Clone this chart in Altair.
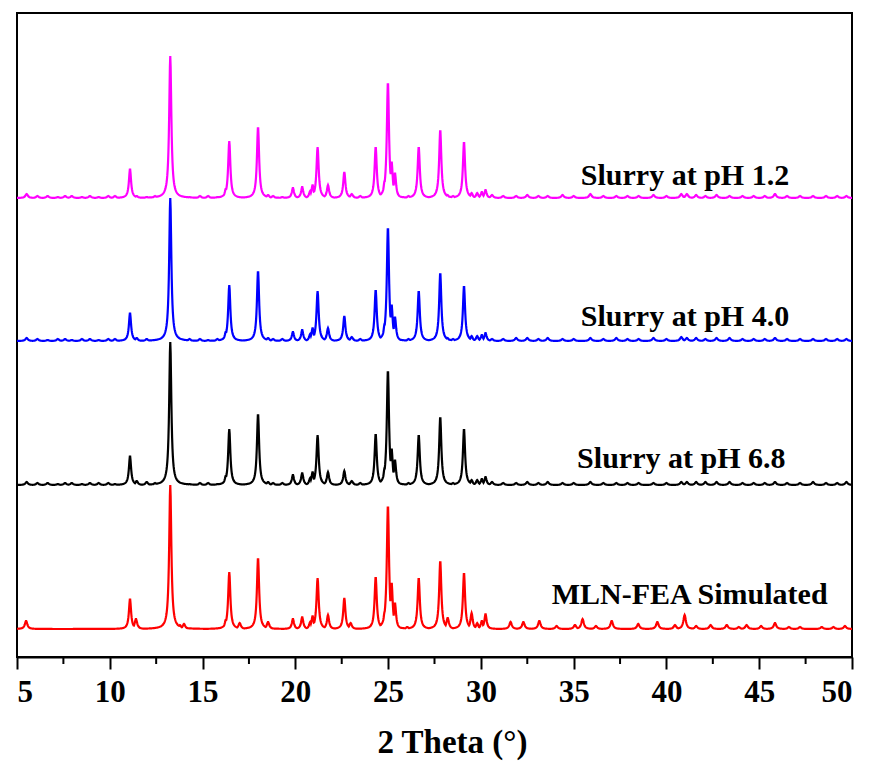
import altair as alt
import numpy as np
import pandas as pd

# ---- data ----
main_pos = [11.09, 13.26, 16.25, 16.44, 17.99, 19.87, 20.37, 20.80, 20.93, 21.20,
            21.76, 22.64, 24.33, 24.81, 24.99, 25.19, 25.37, 26.65, 27.81, 29.09,
            29.50, 29.80, 30.05, 30.25]
h_pink = [29, 142, 9, 57, 71, 10, 11, 7, 13, 51, 13, 26, 51, 17, 116, 36, 25, 51, 68, 56, 5, 5, 6, 8]
h_blue = [28, 143, 9, 56, 70, 9, 11, 7, 13, 50, 13, 25, 51, 17, 114, 36, 24, 50, 68, 55, 5, 5, 6, 8]
h_black = [29, 143, 9, 56, 71, 10, 12, 7, 13, 50, 13, 14, 51, 17, 115, 36, 25, 50, 68, 56, 5, 5, 6, 8]
h_red = [30, 144, 9, 57, 71, 10, 12, 7, 13, 51, 14, 31, 52, 17, 124, 46, 26, 51, 68, 56, 16, 6, 8, 15]

# extra reflections of the simulated pattern
red_extra_pos = [5.49, 11.41, 13.78, 14.00, 17.00, 18.53, 22.98, 26.03, 28.21, 31.60, 32.29,
                 33.15, 34.08, 35.07, 35.48, 36.20, 37.05, 38.48, 39.51, 40.46, 40.98,
                 41.60, 42.38, 43.25, 43.90, 44.32, 45.10, 45.85, 46.60, 47.20, 48.37, 49.00, 49.62]
red_extra_h = [8, 10, 4, 5, 6, 7, 6, 2, 11, 7, 7,
               8, 3, 4, 10, 3, 8, 5, 7, 4, 14,
               3, 4, 4, 2, 4, 3, 6, 2, 2, 2, 2, 3]

# small reflections / noise of the measured slurries
minor_pos = [5.52, 6.10, 6.65, 7.20, 7.59, 7.95, 8.50, 8.93, 9.40, 9.92, 10.28, 11.45,
             11.99, 12.44, 14.30, 14.86, 15.30, 15.80, 18.53, 18.80, 19.30, 23.04, 23.50,
             26.10, 28.20, 28.50, 30.60, 31.20, 31.90, 32.50, 33.10, 33.60, 34.40, 35.00,
             35.90, 36.60, 37.30, 37.90, 38.50, 39.30, 40.00, 40.80, 41.10, 41.60, 42.10,
             42.70, 43.40, 44.10, 44.70, 45.30, 45.85, 46.50, 47.20, 47.90, 48.60, 49.20, 49.70]
minor_pink = [4, 2, 2, 1, 2, 2, 1, 2, 1, 2, 2, 2,
              1, 2, 1, 2, 2, 1, 3, 2, 1, 4, 2,
              2, 3, 2, 3, 2, 2, 3, 2, 2, 3, 2,
              4, 2, 2, 2, 2, 3, 2, 4, 4, 3, 2,
              3, 2, 2, 2, 2, 4, 2, 2, 2, 2, 2, 2]
minor_blue = [3, 2, 1, 2, 2, 1, 2, 2, 1, 2, 2, 3,
              2, 1, 2, 2, 1, 2, 3, 2, 2, 4, 2,
              2, 3, 2, 2, 2, 3, 3, 2, 3, 2, 2,
              3, 2, 3, 2, 2, 3, 2, 4, 3, 3, 2,
              3, 3, 2, 2, 2, 3, 2, 2, 2, 2, 2, 2]
minor_black = [3, 2, 2, 1, 2, 2, 1, 2, 2, 2, 1, 4,
               3, 2, 1, 2, 2, 1, 3, 2, 2, 4, 2,
               2, 2, 2, 3, 2, 2, 3, 2, 3, 2, 2,
               3, 2, 2, 2, 2, 2, 2, 3, 3, 3, 3,
               3, 3, 2, 2, 2, 3, 2, 2, 3, 2, 2, 3]

series_names = ["Slurry at pH 1.2", "Slurry at pH 4.0", "Slurry at pH 6.8", "MLN-FEA Simulated"]
series_colors = ["#FF00FF", "#0000FF", "#000000", "#FF0000"]
x_ticks = [5, 10, 15, 20, 25, 30, 35, 40, 45, 50]
minor_ticks = [7.5, 12.5, 17.5, 22.5, 27.5, 32.5, 37.5, 42.5, 47.5]

# ---- layout constants (vertical stacking of the patterns) ----
offsets = [459, 316, 172, 28]
label_x = [41.0, 41.0, 40.8, 41.25]
label_y = [472, 331, 189, 53]

grid = np.arange(5.0, 50.0001, 0.02)


def profile(pos, hts, w):
    pos = np.asarray(pos, float)[:, None]
    hts = np.asarray(hts, float)[:, None]
    return (hts * w * w / ((grid[None, :] - pos) ** 2 + w * w)).max(axis=0)


peak_sets = [
    [(main_pos, h_pink, 0.07), (minor_pos, minor_pink, 0.08)],
    [(main_pos, h_blue, 0.07), (minor_pos, minor_blue, 0.08)],
    [(main_pos, h_black, 0.07), (minor_pos, minor_black, 0.08)],
    [(main_pos, h_red, 0.07), (red_extra_pos, red_extra_h, 0.08)],
]

frames = []
for name, off, sets in zip(series_names, offsets, peak_sets):
    y = np.zeros_like(grid)
    for p, h, w in sets:
        y = np.maximum(y, profile(p, h, w))
    frames.append(pd.DataFrame({"x": grid, "y": y + off, "series": name}))
df = pd.concat(frames, ignore_index=True)

labels = pd.DataFrame({"x": label_x, "y": label_y, "text": series_names})
minor_df = pd.DataFrame({"x": minor_ticks})

FONT = "Liberation Serif"

x_scale = alt.Scale(domain=[5, 50], nice=False, zero=False)
y_scale = alt.Scale(domain=[0, 644], nice=False, zero=False)

lines = alt.Chart(df).mark_line(strokeWidth=2.2, clip=True).encode(
    x=alt.X("x:Q", scale=x_scale,
            axis=alt.Axis(values=x_ticks, title="2 Theta (°)", grid=False,
                          domainColor="black", domainWidth=2,
                          tickColor="black", tickWidth=2, tickSize=12,
                          labelFont=FONT, labelFontSize=31, labelFontWeight="bold",
                          labelColor="black", labelPadding=8,
                          titleFont=FONT, titleFontSize=33, titleFontWeight="bold",
                          titleColor="black", titlePadding=19, titleX=435)),
    y=alt.Y("y:Q", scale=y_scale, axis=None),
    color=alt.Color("series:N", scale=alt.Scale(domain=series_names, range=series_colors),
                    legend=None),
    detail="series:N",
)

text = alt.Chart(labels).mark_text(font=FONT, fontSize=30, fontWeight="bold",
                                   color="black", align="center",
                                   baseline="alphabetic").encode(
    x=alt.X("x:Q", scale=x_scale),
    y=alt.Y("y:Q", scale=y_scale),
    text="text:N",
)

minor = alt.Chart(minor_df).mark_rule(color="black", strokeWidth=2).encode(
    x=alt.X("x:Q", scale=x_scale),
    y=alt.value(644),
    y2=alt.value(651),
)

chart = alt.layer(lines, text, minor).properties(
    width=835, height=644,
    autosize=alt.AutoSizeParams(type="none"),
    padding={"left": 9, "top": 5, "right": 12, "bottom": 106},
    background="white",
).configure_view(stroke="black", strokeWidth=2)

chart.save("out.html", embed_options={"renderer": "svg", "actions": False})
